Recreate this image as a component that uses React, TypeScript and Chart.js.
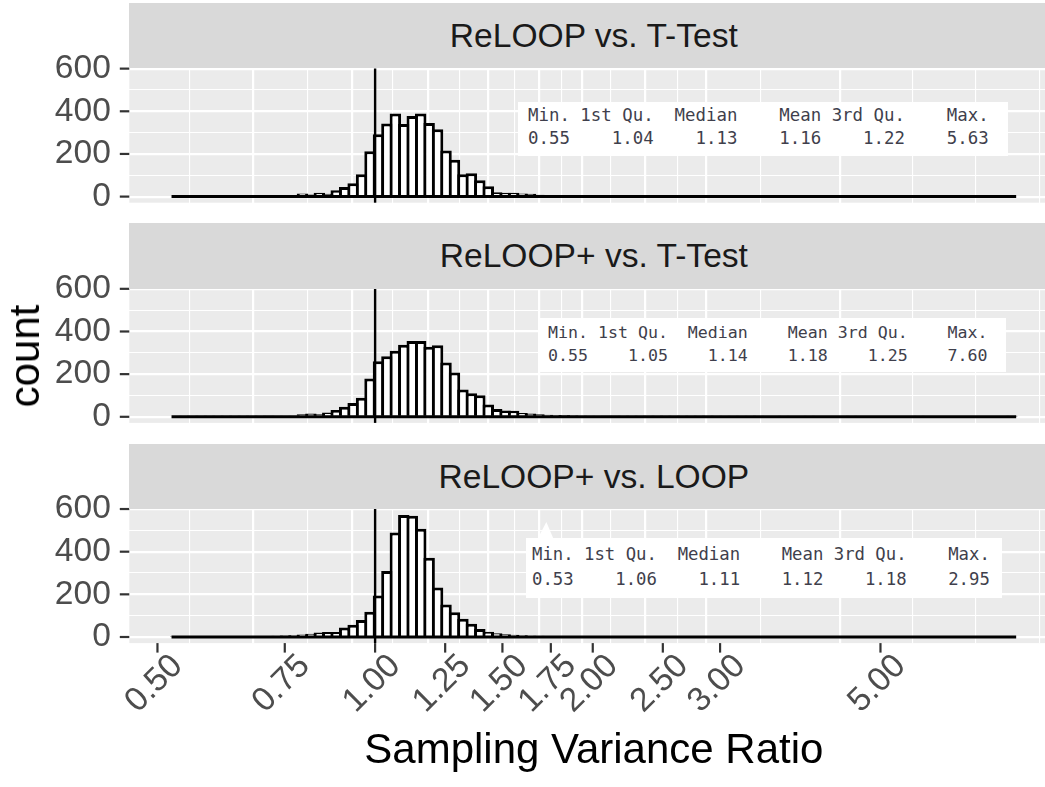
import React, { useEffect, useRef } from "react";
import { Chart, registerables } from "chart.js";

Chart.register(...registerables);

// ---------------- data ----------------
const PANEL_TITLES = ["ReLOOP vs. T-Test", "ReLOOP+ vs. T-Test", "ReLOOP+ vs. LOOP"];

// histogram: 100 bins on log scale between the overall min and max ratio
const RATIO_MIN = 0.53;
const RATIO_MAX = 7.6;
const BIN_COUNT = 100;

const COUNTS_RELOOP_TTEST = [
  0, 1, 1, 4, 1, 2, 2, 1, 4, 2,
  3, 4, 4, 5, 6, 14, 10, 18, 13, 30,
  45, 63, 105, 213, 292, 343, 390, 340, 378, 390,
  345, 316, 216, 173, 105, 110, 77, 48, 20, 18,
  18, 14, 13, 9, 7, 8, 6, 5, 6, 4,
  5, 3, 4, 3, 2, 3, 2, 1, 2, 1,
  1, 2, 0, 1, 1, 0, 1, 0, 1, 0,
  0, 1, 0, 0, 0, 0, 0, 0, 0, 0,
  0, 0, 0, 0, 1, 0, 0, 0, 0, 0,
  0, 0, 0, 0, 0, 0, 0, 0, 0, 0,
];

const COUNTS_RELOOPPLUS_TTEST = [
  0, 1, 2, 1, 2, 3, 1, 2, 3, 2,
  3, 4, 3, 5, 6, 12, 15, 12, 20, 32,
  47, 65, 89, 180, 260, 284, 310, 338, 355, 355,
  328, 336, 255, 208, 128, 110, 101, 58, 37, 30,
  28, 18, 15, 12, 10, 9, 8, 7, 6, 6,
  5, 4, 4, 3, 3, 3, 2, 2, 2, 1,
  2, 1, 1, 1, 1, 0, 1, 0, 1, 1,
  0, 0, 1, 0, 0, 1, 0, 0, 0, 0,
  1, 0, 0, 0, 0, 0, 0, 0, 1, 0,
  0, 0, 0, 0, 0, 0, 0, 0, 0, 1,
];

const COUNTS_RELOOPPLUS_LOOP = [
  2, 1, 1, 3, 1, 2, 2, 3, 3, 4,
  3, 5, 6, 7, 8, 12, 15, 21, 24, 24,
  44, 58, 80, 118, 195, 310, 490, 572, 568, 507,
  372, 232, 152, 116, 85, 62, 38, 25, 18, 13,
  10, 8, 6, 6, 5, 4, 4, 3, 3, 2,
  2, 2, 1, 2, 1, 1, 1, 1, 1, 0,
  1, 0, 0, 1, 1, 0, 0, 0, 0, 0,
  0, 0, 0, 0, 0, 0, 0, 0, 0, 0,
  0, 0, 0, 0, 0, 0, 0, 0, 0, 0,
  0, 0, 0, 0, 0, 0, 0, 0, 0, 0,
];

const PANEL_COUNTS = [COUNTS_RELOOP_TTEST, COUNTS_RELOOPPLUS_TTEST, COUNTS_RELOOPPLUS_LOOP];

const X_BREAKS = [0.5, 0.75, 1, 1.25, 1.5, 1.75, 2, 2.5, 3, 5];
const X_LABELS = ["0.50", "0.75", "1.00", "1.25", "1.50", "1.75", "2.00", "2.50", "3.00", "5.00"];
const Y_BREAKS = [0, 200, 400, 600];
const Y_LABELS = ["0", "200", "400", "600"];
const REFERENCE_X = 1;

const X_TITLE = "Sampling Variance Ratio";
const Y_TITLE = "count";

const SUMMARY_HEADERS = ["Min.", "1st Qu.", "Median", "Mean", "3rd Qu.", "Max."];
const SUMMARY_RELOOP_TTEST = ["0.55", "1.04", "1.13", "1.16", "1.22", "5.63"];
const SUMMARY_RELOOPPLUS_TTEST = ["0.55", "1.05", "1.14", "1.18", "1.25", "7.60"];
const SUMMARY_RELOOPPLUS_LOOP = ["0.53", "1.06", "1.11", "1.12", "1.18", "2.95"];
const PANEL_SUMMARIES = [SUMMARY_RELOOP_TTEST, SUMMARY_RELOOPPLUS_TTEST, SUMMARY_RELOOPPLUS_LOOP];

// ---------------- layout / style ----------------
const FONT = '"Liberation Sans", Arial, Helvetica, sans-serif';
const MONO = '"DejaVu Sans Mono", "Liberation Mono", monospace';
const PAGE_W = 1045;
const PAGE_H = 787;
const CANVAS_W = 1072;
const PLOT_LEFT = 129.3;
const PLOT_RIGHT = 1058.4;
const PANEL_TOPS = [68.5, 288.7, 508.9];
const PANEL_H = 134.2;
const STRIP_H = 65.3;
const CANVAS_MARGIN = 42;
const TICK_LEN = 9.5;
const BAR_LINE = 3;

const SUMMARY_BOX_STYLES = [
  { left: 518, top: 102, width: 490, height: 54, fontSize: 17.4, lineHeight: 22.5, padLeft: 10, padTop: 2 },
  { left: 540, top: 318, width: 466, height: 54, fontSize: 16.6, lineHeight: 23, padLeft: 8, padTop: 3 },
  { left: 526, top: 538, width: 476, height: 60, fontSize: 17.3, lineHeight: 25, padLeft: 6, padTop: 4 },
];

// ---------------- derived (ggplot-like binning / scale expansion) ----------------
const lnMin = Math.log(RATIO_MIN);
const lnMax = Math.log(RATIO_MAX);
const binW = (lnMax - lnMin) / (BIN_COUNT - 1);
const binCenters = PANEL_COUNTS[0].map((_, k) => Math.exp(lnMin + k * binW));
const edgeLo = lnMin - binW / 2;
const edgeHi = lnMax + binW / 2;
const spanLn = edgeHi - edgeLo;
const X_MIN = Math.exp(edgeLo - 0.05 * spanLn);
const X_MAX = Math.exp(edgeHi + 0.05 * spanLn);
const maxCount = Math.max(...PANEL_COUNTS.flat());
const Y_MIN = -0.05 * maxCount;
const Y_MAX = 1.05 * maxCount;

// minor breaks: midpoints (in transformed space) between majors, extended by one step
function minorBreaks(breaks: number[], tf: (v: number) => number, inv: (v: number) => number) {
  const t = breaks.map(tf);
  const d = t[1] - t[0];
  const ext = [t[0] - d, ...t, t[t.length - 1] + d];
  const out: number[] = [];
  for (let i = 0; i < ext.length - 1; i++) out.push(inv((ext[i] + ext[i + 1]) / 2));
  out.push(inv(ext[ext.length - 1]));
  return out;
}
const X_MINOR = minorBreaks(X_BREAKS, Math.log, Math.exp).filter(
  (v) => v > X_MIN && v < X_MAX && !X_BREAKS.some((b) => Math.abs(b - v) < 1e-9)
);
const Y_MINOR = minorBreaks(Y_BREAKS, (v) => v, (v) => v).filter(
  (v) => v > Y_MIN && v < Y_MAX && !Y_BREAKS.includes(v)
);
const X_TICKS = [...X_BREAKS, ...X_MINOR].sort((a, b) => a - b);
const Y_TICKS = [...Y_BREAKS, ...Y_MINOR].sort((a, b) => a - b);

const isXMajor = (v: number) => X_BREAKS.some((b) => Math.abs(b - v) < 1e-9);
const isYMajor = (v: number) => Y_BREAKS.includes(v);

function summaryLines(values: string[]) {
  const w = [4, 7, 7, 7, 7, 7];
  const head = SUMMARY_HEADERS.map((h, i) => h.padStart(w[i])).join(" ");
  const vals = values.map((v, i) => v.padStart(w[i])).join(" ");
  return head + "\n" + vals;
}

const panelBg = {
  id: "panelBg",
  beforeDraw(chart: any) {
    const { ctx, chartArea } = chart;
    ctx.save();
    ctx.fillStyle = "#ebebeb";
    ctx.fillRect(chartArea.left, chartArea.top, chartArea.right - chartArea.left, chartArea.bottom - chartArea.top);
    ctx.restore();
  },
};

const refLine = {
  id: "refLine",
  afterDatasetsDraw(chart: any) {
    const { ctx, chartArea } = chart;
    const x = chart.scales.x.getPixelForValue(REFERENCE_X);
    ctx.save();
    ctx.beginPath();
    ctx.moveTo(x, chartArea.top);
    ctx.lineTo(x, chartArea.bottom);
    ctx.lineWidth = 2.4;
    ctx.strokeStyle = "#000000";
    ctx.stroke();
    ctx.restore();
  },
};

function makeTickMarks(showX: boolean) {
  return {
    id: "tickMarks",
    afterDraw(chart: any) {
      const { ctx, chartArea, scales } = chart;
      ctx.save();
      ctx.strokeStyle = "#333333";
      ctx.lineWidth = 2.2;
      ctx.lineCap = "butt";
      Y_BREAKS.forEach((v) => {
        const y = scales.y.getPixelForValue(v);
        ctx.beginPath();
        ctx.moveTo(chartArea.left - TICK_LEN, y);
        ctx.lineTo(chartArea.left, y);
        ctx.stroke();
      });
      if (showX) {
        X_BREAKS.forEach((v) => {
          const x = scales.x.getPixelForValue(v);
          ctx.beginPath();
          ctx.moveTo(x, chartArea.bottom);
          ctx.lineTo(x, chartArea.bottom + TICK_LEN);
          ctx.stroke();
        });
      }
      ctx.restore();
    },
  };
}

function canvasGeom(i: number) {
  const top = Math.floor(PANEL_TOPS[i]) - CANVAS_MARGIN;
  const isLast = i === PANEL_TOPS.length - 1;
  const height = isLast ? PAGE_H - top : Math.ceil(PANEL_TOPS[i] + PANEL_H + CANVAS_MARGIN) - top;
  return { top, height, isLast };
}

function buildConfig(i: number): any {
  const { top, height, isLast } = canvasGeom(i);
  const padTop = PANEL_TOPS[i] - top;
  const axisH = isLast ? PAGE_H - (PANEL_TOPS[i] + PANEL_H) : 0;
  const padBottom = isLast ? 0 : height - padTop - PANEL_H;
  const counts = PANEL_COUNTS[i];
  return {
    type: "bar",
    data: {
      datasets: [
        {
          type: "line",
          data: [
            { x: Math.exp(edgeLo), y: 0 },
            { x: Math.exp(edgeHi), y: 0 },
          ],
          borderColor: "#000000",
          borderWidth: BAR_LINE,
          pointRadius: 0,
          fill: false,
          order: 1,
        },
        {
          type: "bar",
          data: binCenters.map((c, k) => ({ x: c, y: counts[k] })),
          backgroundColor: "#ffffff",
          borderColor: "#000000",
          borderWidth: BAR_LINE,
          borderSkipped: "start",
          barPercentage: 1.356,
          categoryPercentage: 1,
          inflateAmount: 0,
          order: 2,
        },
      ],
    },
    options: {
      responsive: false,
      maintainAspectRatio: false,
      animation: false,
      devicePixelRatio: 1,
      layout: { padding: { left: 0, right: CANVAS_W - PLOT_RIGHT, top: padTop, bottom: padBottom } },
      plugins: { legend: { display: false }, tooltip: { enabled: false }, title: { display: false } },
      scales: {
        x: {
          type: "logarithmic",
          min: X_MIN,
          max: X_MAX,
          bounds: "data",
          afterBuildTicks: (s: any) => {
            s.ticks = X_TICKS.map((v) => ({ value: v }));
          },
          afterFit: (s: any) => {
            s.paddingLeft = 0;
            s.paddingRight = 0;
            s.height = axisH;
          },
          border: { display: false },
          grid: {
            color: "#ffffff",
            lineWidth: (ctx: any) => (ctx.tick && isXMajor(ctx.tick.value) ? 2.2 : 1.1),
            drawTicks: isLast,
            tickLength: TICK_LEN,
            tickColor: "rgba(0,0,0,0)",
          },
          ticks: {
            display: isLast,
            autoSkip: false,
            minRotation: 45,
            maxRotation: 45,
            padding: -6,
            labelOffset: 20,
            color: "#4d4d4d",
            font: { family: FONT, size: 33.6 },
            callback: (value: number) => {
              const idx = X_BREAKS.findIndex((b) => Math.abs(b - value) < 1e-9);
              return idx >= 0 ? X_LABELS[idx] : "";
            },
          },
          title: {
            display: isLast,
            text: X_TITLE,
            color: "#000000",
            font: { family: FONT, size: 42 },
            padding: { top: 0, bottom: 10 },
          },
        },
        y: {
          type: "linear",
          min: Y_MIN,
          max: Y_MAX,
          bounds: "data",
          afterBuildTicks: (s: any) => {
            s.ticks = Y_TICKS.map((v) => ({ value: v }));
          },
          afterFit: (s: any) => {
            s.width = PLOT_LEFT;
            s.paddingTop = 0;
            s.paddingBottom = 0;
          },
          border: { display: false },
          grid: {
            color: "#ffffff",
            lineWidth: (ctx: any) => (ctx.tick && isYMajor(ctx.tick.value) ? 2.2 : 1.1),
            drawTicks: true,
            tickLength: TICK_LEN,
            tickColor: "rgba(0,0,0,0)",
          },
          ticks: {
            autoSkip: false,
            padding: 9,
            color: "#4d4d4d",
            font: { family: FONT, size: 33.6 },
            callback: (value: number) => {
              const idx = Y_BREAKS.indexOf(value);
              return idx >= 0 ? Y_LABELS[idx] : "";
            },
          },
        },
      },
    },
    plugins: [panelBg, refLine, makeTickMarks(isLast)],
  };
}

export default function App() {
  const r0 = useRef<HTMLCanvasElement>(null);
  const r1 = useRef<HTMLCanvasElement>(null);
  const r2 = useRef<HTMLCanvasElement>(null);
  const refs = [r0, r1, r2];

  useEffect(() => {
    const charts = refs.map((r, i) => new Chart(r.current as HTMLCanvasElement, buildConfig(i)));
    return () => charts.forEach((c) => c.destroy());
  }, []);

  return (
    <div
      style={{
        position: "absolute",
        left: 0,
        top: 0,
        width: PAGE_W,
        height: PAGE_H,
        overflow: "hidden",
        background: "#ffffff",
      }}
    >
      {PANEL_TITLES.map((_, i) => {
        const g = canvasGeom(i);
        return (
          <canvas
            key={"c" + i}
            ref={refs[i]}
            width={CANVAS_W}
            height={g.height}
            style={{ position: "absolute", left: 0, top: g.top, width: CANVAS_W, height: g.height }}
          />
        );
      })}
      {PANEL_TITLES.map((t, i) => (
        <div
          key={"s" + i}
          style={{
            position: "absolute",
            left: PLOT_LEFT,
            top: PANEL_TOPS[i] - STRIP_H,
            width: PLOT_RIGHT - PLOT_LEFT,
            height: STRIP_H,
            background: "#d9d9d9",
            color: "#1a1a1a",
            fontFamily: FONT,
            fontSize: 33.6,
            lineHeight: STRIP_H + "px",
            textAlign: "center",
            whiteSpace: "nowrap",
          }}
        >
          {t}
        </div>
      ))}
      <div
        style={{
          position: "absolute",
          left: 537,
          top: 522,
          width: 17,
          height: 18,
          background: "#ffffff",
          clipPath: "polygon(0% 100%, 55% 0%, 100% 100%)",
        }}
      />
      {PANEL_SUMMARIES.map((vals, i) => {
        const b = SUMMARY_BOX_STYLES[i];
        return (
          <div
            key={"b" + i}
            style={{
              position: "absolute",
              left: b.left,
              top: b.top,
              width: b.width,
              height: b.height,
              boxSizing: "border-box",
              background: "#ffffff",
              paddingLeft: b.padLeft,
              paddingTop: b.padTop,
              fontFamily: MONO,
              fontSize: b.fontSize,
              lineHeight: b.lineHeight + "px",
              color: "#3f3f4c",
              whiteSpace: "pre",
            }}
          >
            {summaryLines(vals)}
          </div>
        );
      })}
      <div
        style={{
          position: "absolute",
          left: 25,
          top: (PANEL_TOPS[0] + PANEL_TOPS[2] + PANEL_H) / 2,
          transform: "translate(-50%, -50%) rotate(-90deg)",
          fontFamily: FONT,
          fontSize: 42,
          color: "#000000",
          whiteSpace: "nowrap",
          lineHeight: "1",
        }}
      >
        {Y_TITLE}
      </div>
    </div>
  );
}
